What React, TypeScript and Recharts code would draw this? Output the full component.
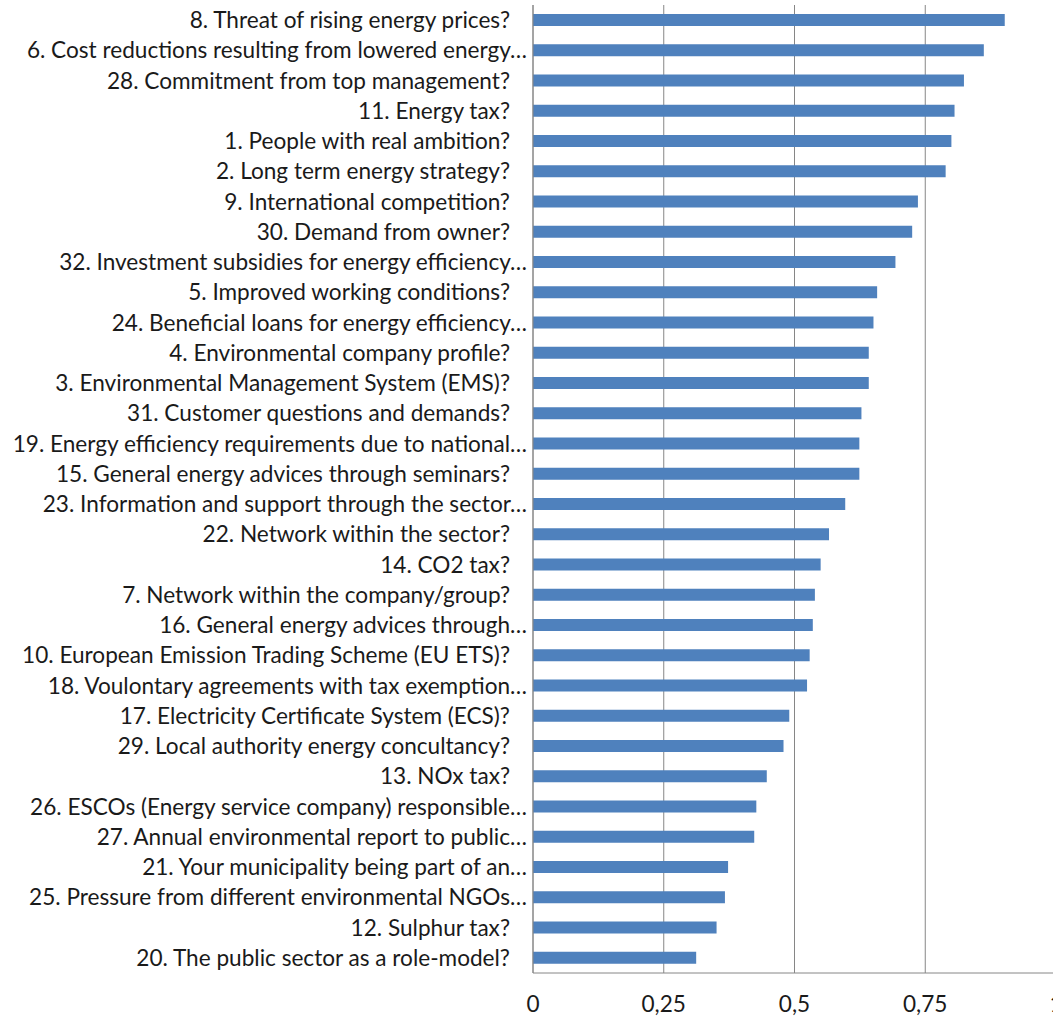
import React from 'react';
import { BarChart, Bar, XAxis, YAxis, CartesianGrid } from 'recharts';

// survey items, top to bottom
const questions = [
  '8. Threat of rising energy prices?',
  '6. Cost reductions resulting from lowered energy…',
  '28. Commitment from top management?',
  '11. Energy tax?',
  '1. People with real ambition?',
  '2. Long term energy strategy?',
  '9. International competition?',
  '30. Demand from owner?',
  '32. Investment subsidies for energy efficiency…',
  '5. Improved working conditions?',
  '24. Beneficial loans for energy efficiency…',
  '4. Environmental company profile?',
  '3. Environmental Management System (EMS)?',
  '31. Customer questions and demands?',
  '19. Energy efficiency requirements due to national…',
  '15. General energy advices through seminars?',
  '23. Information and support through the sector…',
  '22. Network within the sector?',
  '14. CO2 tax?',
  '7. Network within the company/group?',
  '16. General energy advices through…',
  '10. European Emission Trading Scheme (EU ETS)?',
  '18. Voulontary agreements with tax exemption…',
  '17. Electricity Certificate System (ECS)?',
  '29. Local authority energy concultancy?',
  '13. NOx tax?',
  '26. ESCOs (Energy service company) responsible…',
  '27. Annual environmental report to public…',
  '21. Your municipality being part of an…',
  '25. Pressure from different environmental NGOs…',
  '12. Sulphur tax?',
  '20. The public sector as a role-model?',
];

const scores = [
  0.902, 0.862, 0.824, 0.806, 0.8, 0.789, 0.736, 0.725, 0.693, 0.658, 0.651,
  0.642, 0.642, 0.628, 0.624, 0.624, 0.597, 0.566, 0.55, 0.539, 0.535, 0.529,
  0.524, 0.49, 0.479, 0.447, 0.427, 0.423, 0.373, 0.367, 0.351, 0.312,
];

const xTicks = [0, 0.25, 0.5, 0.75, 1];

const data = questions.map((q, i) => ({ question: q, score: scores[i] }));

const FONT = 'Lato, "Open Sans", sans-serif';
const TEXT = '#1a1a1a';
const GRID = '#868686';
const FS = 22.6;

const fmt = (v: number) => String(v).replace('.', ',');

// the full questions (ending in "?") sit a little further left than the cut ones
const QuestionTick = (props: any) => {
  const { x, y, payload } = props;
  const label: string = payload.value;
  const shift = label.endsWith('…') ? 0 : 17;
  return (
    <text
      x={x - shift}
      y={y}
      dy="0.355em"
      textAnchor="end"
      fill={TEXT}
      fontSize={FS}
      fontFamily={FONT}
    >
      {label}
    </text>
  );
};

export default function App() {
  return (
    <div
      style={{
        position: 'fixed',
        left: 0,
        top: 0,
        width: 1053,
        height: 1017,
        overflow: 'hidden',
        background: '#fff',
        fontFamily: FONT,
      }}
    >
      <BarChart
        width={1056}
        height={1017}
        data={data}
        layout="vertical"
        margin={{ top: 5, right: 0, bottom: 0, left: 0 }}
        barSize={12}
      >
        <CartesianGrid horizontal={false} stroke={GRID} />
        <XAxis
          type="number"
          domain={[0, 1]}
          ticks={xTicks}
          interval={0}
          tickFormatter={fmt}
          tickLine={false}
          tickMargin={17}
          axisLine={{ stroke: GRID }}
          tick={{ fill: TEXT, fontSize: FS, fontFamily: FONT }}
          height={44}
        />
        <YAxis
          type="category"
          dataKey="question"
          width={533}
          interval={0}
          tickLine={false}
          tickMargin={0}
          axisLine={{ stroke: GRID }}
          tick={<QuestionTick />}
        />
        <Bar dataKey="score" fill="#4F81BD" isAnimationActive={false} />
      </BarChart>
    </div>
  );
}
